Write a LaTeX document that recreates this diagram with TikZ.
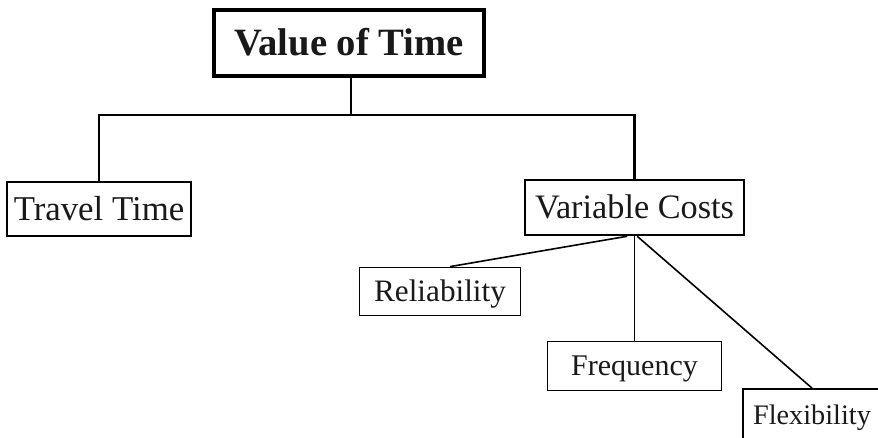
\documentclass[tikz,border=0pt]{standalone}
\usepackage{fontspec}
\setmainfont{Liberation Serif}
\begin{document}
\begin{tikzpicture}[x=0.75pt, y=-0.75pt,
  box/.style={draw=black, rectangle, inner sep=0pt, text=black!90,
    text depth=0pt, anchor=center},
  topbox/.style={box, line width=2.6pt},
  midbox/.style={box, line width=1.9pt},
  lowbox/.style={box, line width=1.3pt},
  trunk/.style={draw=black, line width=1.9pt},
  branch/.style={draw=black, line width=1.2pt}]
  \useasboundingbox (0,0) rectangle (878,438);
  \clip (0,0) rectangle (878,438);

  % boxes
  \node[topbox, font=\fontsize{29}{31}\selectfont\bfseries, text height=19.2pt,
        minimum width=202.5pt, minimum height=49.5pt] (vot) at (349,43) {Value of Time};
  \node[midbox, font=\fontsize{26.1}{28}\selectfont, text height=17.3pt,
        minimum width=138pt, minimum height=40.5pt] (tt) at (99,209) {Travel Time};
  \node[midbox, font=\fontsize{25.7}{28}\selectfont, text height=17pt,
        minimum width=164.25pt, minimum height=41.25pt] (vc) at (634.5,207.5) {Variable Costs};
  \node[lowbox, font=\fontsize{23.4}{26}\selectfont, text height=15.5pt,
        minimum width=120.75pt, minimum height=36pt] (rel) at (440,291.5) {Reliability};
  \node[lowbox, font=\fontsize{22.5}{25}\selectfont, text height=14.9pt,
        minimum width=130.5pt, minimum height=36.75pt] (freq) at (634.5,366) {Frequency};
  \node[lowbox, font=\fontsize{21.2}{24}\selectfont, text height=14pt,
        minimum width=103.5pt, minimum height=39pt] (flex) at (812,415) {Flexibility};

  % first-level tree
  \coordinate (j) at (351,115);
  \draw[trunk] (vot.south -| j) -- (j);
  \draw[trunk, line join=miter] (tt.north) -- (tt.north |- j) -- (vc.north |- j) -- (vc.north);

  % second-level branches
  \draw[branch] ([xshift=-5.5pt]vc.south) -- ([xshift=7.5pt]rel.north);
  \draw[branch] (vc.south) -- (freq.north);
  \draw[branch] ([xshift=2pt]vc.south) -- (flex.north);
\end{tikzpicture}
\end{document}
